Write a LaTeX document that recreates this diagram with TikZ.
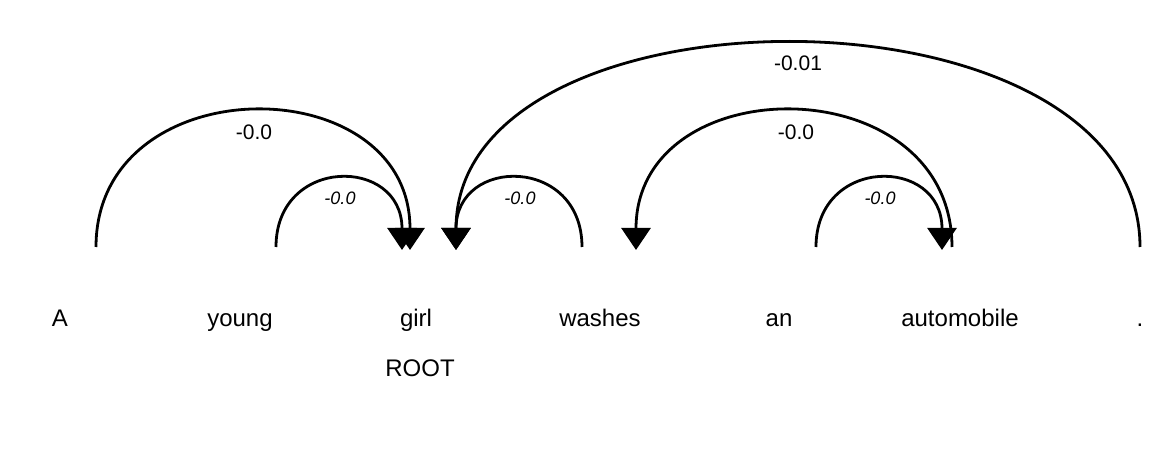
\documentclass[tikz,border=0pt]{standalone}
\usepackage{fontspec}
\setmainfont{Liberation Sans}
\usetikzlibrary{arrows.meta}
\begin{document}
\begin{tikzpicture}[x=1pt,y=-1pt,
  word/.style={font=\fontsize{24}{28}\selectfont, anchor=base, inner sep=0pt},
  lab/.style={font=\fontsize{21}{24}\selectfont, inner sep=0pt},
  slab/.style={font=\fontsize{18}{21}\selectfont\itshape, inner sep=0pt},
  arcline/.style={line width=2.8pt, -{Triangle[length=22pt,width=29pt]}}]
\useasboundingbox (0,0) rectangle (1176,462);
\fill[white] (0,0) rectangle (1176,462);
% words
\node[word] (w1) at (60,327) {A};
\node[word] (w2) at (240,327) {young};
\node[word] (w3) at (416,327) {girl};
\node[word] (w4) at (600,327) {washes};
\node[word] (w5) at (779,327) {an};
\node[word] (w6) at (960,327) {automobile};
\node[word] (w7) at (1140,327) {.};
\node[word] (root) at (420,377) {ROOT};
% arc endpoints
\coordinate (s1) at (96,247);   \coordinate (e1) at (410,250);
\coordinate (s2) at (276,247);  \coordinate (e2) at (402,250);
\coordinate (s3) at (582,247);  \coordinate (e3) at (456,250);
\coordinate (s4) at (1140,247); \coordinate (e4) at (456,250);
\coordinate (s5) at (952,247);  \coordinate (e5) at (636,250);
\coordinate (s6) at (816,247);  \coordinate (e6) at (942,250);
% arcs
\draw[arcline] (s1) .. controls +(0,-181) and +(0,-184) .. (e1);
\draw[arcline] (s2) .. controls +(0,-91) and +(0,-94) .. (e2);
\draw[arcline] (s3) .. controls +(0,-91) and +(0,-94) .. (e3);
\draw[arcline] (s4) .. controls +(0,-271) and +(0,-274) .. (e4);
\draw[arcline] (s5) .. controls +(0,-181) and +(0,-184) .. (e5);
\draw[arcline] (s6) .. controls +(0,-91) and +(0,-94) .. (e6);
% labels
\node[lab] (l1) at (254,132) {-0.0};
\node[slab] (l2) at (340,198) {-0.0};
\node[slab] (l3) at (520,198) {-0.0};
\node[lab] (l4) at (798,63) {-0.01};
\node[lab] (l5) at (796,132) {-0.0};
\node[slab] (l6) at (880,198) {-0.0};
\end{tikzpicture}
\end{document}
